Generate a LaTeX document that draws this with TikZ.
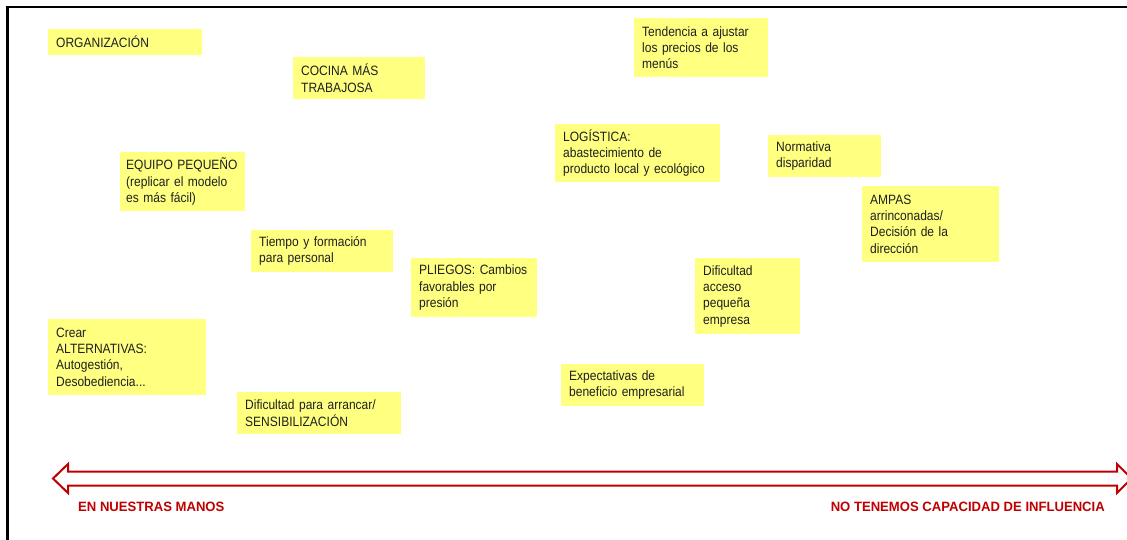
\documentclass[tikz,border=0pt]{standalone}
\usepackage{fontspec}
\setmainfont[FakeStretch=0.89]{Liberation Sans}
\newfontfamily\labelfont[FakeStretch=0.97]{Liberation Sans}
\definecolor{notey}{RGB}{255,255,128}
\definecolor{axisred}{RGB}{192,0,0}
\hyphenpenalty=10000
\lefthyphenmin=62
\begin{document}
\begin{tikzpicture}[x=1pt,y=-1pt,
  note/.style={fill=notey, anchor=north west, align=left, inner xsep=8pt, inner ysep=0pt,
    font=\fontsize{13.5}{16.3}\selectfont, text=black!88},
  axislabel/.style={text=axisred, font=\labelfont\bfseries\fontsize{13.5}{16}\selectfont, inner sep=0pt},
  axisarrow/.style={draw=axisred, line width=2pt, fill=white, line join=miter}]
\useasboundingbox (0,0) rectangle (1127,540);
\fill[white] (0,0) rectangle (1127,540);
% frame
\draw[line width=2.5pt, line join=miter] (7.5,545) -- (7.5,7) -- (1132,7);

% notes
\node[note, text width=138pt, minimum height=26pt] (org) at (48,29) {ORGANIZACIÓN};
\node[note, text width=116pt, minimum height=42pt] (cocina) at (293,57) {COCINA MÁS\\TRABAJOSA};
\node[note, text width=118pt, minimum height=59pt] (tendencia) at (634,18) {Tendencia a ajustar\\los precios de los\\menús};
\node[note, text width=113pt, inner xsep=6pt, minimum height=59pt] (equipo) at (120,152) {EQUIPO PEQUEÑO\\(replicar el modelo\\es más fácil)};
\node[note, text width=149pt, minimum height=58pt] (logistica) at (555,124) {LOGÍSTICA:\\abastecimiento de\\producto local y ecológico};
\node[note, text width=97pt, minimum height=42pt] (normativa) at (768,135) {Normativa\\disparidad};
\node[note, text width=121pt, minimum height=76pt] (ampas) at (862,186) {AMPAS\\arrinconadas/\\Decisión de la\\dirección};
\node[note, text width=126pt, minimum height=42pt] (tiempo) at (251,230) {Tiempo y formación\\para personal};
\node[note, text width=110pt, minimum height=59pt] (pliegos) at (411,258) {PLIEGOS: Cambios\\favorables por\\presión};
\node[note, text width=89pt, minimum height=76pt] (acceso) at (695,258) {Dificultad\\acceso\\pequeña\\empresa};
\node[note, text width=142pt, minimum height=76pt] (crear) at (48,319) {Crear\\ALTERNATIVAS:\\Autogestión,\\Desobediencia...};
\node[note, text width=127pt, minimum height=42pt] (expect) at (561,364) {Expectativas de\\beneficio empresarial};
\node[note, text width=148pt, minimum height=42pt] (arrancar) at (237,392) {Dificultad para arrancar/\\SENSIBILIZACIÓN};

% axis arrow
\draw[axisarrow] (53,478.5) -- (68,464) -- (68,471.5) -- (1117,471.5) -- (1117,464)
  -- (1131.5,478.5) -- (1117,493) -- (1117,485.5) -- (68,485.5) -- (68,493) -- cycle;
\node[axislabel, anchor=base west] (manos) at (78,511) {EN NUESTRAS MANOS};
\node[axislabel, anchor=base east] (influencia) at (1105,511) {NO TENEMOS CAPACIDAD DE INFLUENCIA};
\end{tikzpicture}
\end{document}
